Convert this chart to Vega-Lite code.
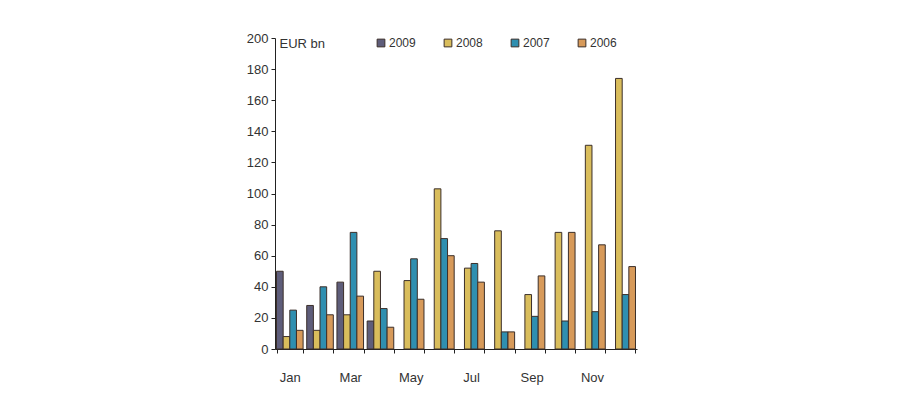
{
  "$schema": "https://vega.github.io/schema/vega-lite/v6.json",
  "autosize": {"type": "none"},
  "width": 362,
  "height": 311,
  "padding": {"left": 275, "top": 38, "right": 280, "bottom": 47},
  "config": {
    "view": {"stroke": null},
    "font": "Liberation Sans",
    "axis": {"labelColor": "#333", "labelFontSize": 13, "domainColor": "#222", "tickColor": "#222", "grid": false}
  },
  "data": {
    "values": [
      {"month": "Jan", "year": "2009", "value": 50},
      {"month": "Jan", "year": "2008", "value": 8},
      {"month": "Jan", "year": "2007", "value": 25},
      {"month": "Jan", "year": "2006", "value": 12},
      {"month": "Feb", "year": "2009", "value": 28},
      {"month": "Feb", "year": "2008", "value": 12},
      {"month": "Feb", "year": "2007", "value": 40},
      {"month": "Feb", "year": "2006", "value": 22},
      {"month": "Mar", "year": "2009", "value": 43},
      {"month": "Mar", "year": "2008", "value": 22},
      {"month": "Mar", "year": "2007", "value": 75},
      {"month": "Mar", "year": "2006", "value": 34},
      {"month": "Apr", "year": "2009", "value": 18},
      {"month": "Apr", "year": "2008", "value": 50},
      {"month": "Apr", "year": "2007", "value": 26},
      {"month": "Apr", "year": "2006", "value": 14},
      {"month": "May", "year": "2008", "value": 44},
      {"month": "May", "year": "2007", "value": 58},
      {"month": "May", "year": "2006", "value": 32},
      {"month": "Jun", "year": "2008", "value": 103},
      {"month": "Jun", "year": "2007", "value": 71},
      {"month": "Jun", "year": "2006", "value": 60},
      {"month": "Jul", "year": "2008", "value": 52},
      {"month": "Jul", "year": "2007", "value": 55},
      {"month": "Jul", "year": "2006", "value": 43},
      {"month": "Aug", "year": "2008", "value": 76},
      {"month": "Aug", "year": "2007", "value": 11},
      {"month": "Aug", "year": "2006", "value": 11},
      {"month": "Sep", "year": "2008", "value": 35},
      {"month": "Sep", "year": "2007", "value": 21},
      {"month": "Sep", "year": "2006", "value": 47},
      {"month": "Oct", "year": "2008", "value": 75},
      {"month": "Oct", "year": "2007", "value": 18},
      {"month": "Oct", "year": "2006", "value": 75},
      {"month": "Nov", "year": "2008", "value": 131},
      {"month": "Nov", "year": "2007", "value": 24},
      {"month": "Nov", "year": "2006", "value": 67},
      {"month": "Dec", "year": "2008", "value": 174},
      {"month": "Dec", "year": "2007", "value": 35},
      {"month": "Dec", "year": "2006", "value": 53}
    ]
  },
  "mark": {"type": "bar", "stroke": "#3b2f2a", "strokeWidth": 1},
  "encoding": {
    "x": {
      "field": "month", "type": "nominal",
      "sort": ["Jan","Feb","Mar","Apr","May","Jun","Jul","Aug","Sep","Oct","Nov","Dec"],
      "scale": {"paddingInner": 0.12, "paddingOuter": 0.05},
      "axis": {"title": null, "labelAngle": 0, "tickBand": "extent", "tickSize": 4, "labelPadding": 18,
        "labelExpr": "indexof(['Jan','Mar','May','Jul','Sep','Nov'], datum.value) >= 0 ? datum.value : ''"}
    },
    "xOffset": {"field": "year", "type": "nominal", "sort": ["2009","2008","2007","2006"]},
    "y": {
      "field": "value", "type": "quantitative",
      "scale": {"domain": [0, 200], "nice": false},
      "axis": {"values": [0,20,40,60,80,100,120,140,160,180,200], "tickSize": 4, "labelPadding": 3,
        "title": "EUR bn", "titleAngle": 0, "titleX": 4, "titleY": 5, "titleAlign": "left", "titleBaseline": "middle",
        "titleFontSize": 13, "titleFontWeight": "normal", "titleColor": "#333"}
    },
    "color": {
      "field": "year", "type": "nominal",
      "scale": {"domain": ["2009","2008","2007","2006"], "range": ["#5e5d7a","#d9bd5c","#2f8fb0","#d79a5a"]},
      "legend": {"title": null, "orient": "none", "legendX": 100, "legendY": -1, "direction": "horizontal", "columns": 4,
        "symbolType": "square", "symbolSize": 60, "symbolStrokeColor": "#3b2f2a", "symbolStrokeWidth": 1,
        "labelFontSize": 12, "labelColor": "#333", "columnPadding": 26, "labelOffset": 2}
    }
  }
}
